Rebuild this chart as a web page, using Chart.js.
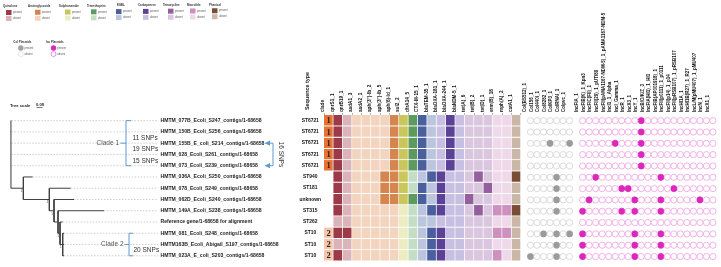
<!DOCTYPE html>
<html>
<head>
<meta charset="utf-8">
<script src="https://cdn.jsdelivr.net/npm/chart.js@4.4.1/dist/chart.umd.min.js"></script>
<style>
  html, body { margin: 0; padding: 0; background: #fff; }
  body { width: 721px; height: 267px; position: relative; overflow: hidden; }
  canvas { position: absolute; top: 0; }
</style>
</head>
<body>
<canvas id="tree" width="300" height="267" style="left:0"></canvas>
<canvas id="heat" width="232" height="267" style="left:290px"></canvas>
<canvas id="dots" width="199" height="267" style="left:522px"></canvas>
<script>
// ---------- data ----------
const tipLabels = [
    'HMTM_077B_Ecoli_S247_contigs/1-68658',
    'HMTM_150B_Ecoli_S256_contigs/1-68658',
    'HMTM_155B_E_coli_S214_contigs/1-68658',
    'HMTM_028_Ecoli_S261_contigs/1-68658',
    'HMTM_073_Ecoli_S239_contigs/1-68658',
    'HMTM_036A_Ecoli_S250_contigs/1-68658',
    'HMTM_078_Ecoli_S249_contigs/1-68658',
    'HMTM_062D_Ecoli_S240_contigs/1-68658',
    'HMTM_149A_Ecoli_S238_contigs/1-68658',
    'Reference gene/1-68658 for alignment',
    'HMTM_081_Ecoli_S248_contigs/1-68658',
    'HMTM163B_Ecoli_Abigail_S197_contigs/1-68658',
    'HMTM_023A_E_coli_S203_contigs/1-68658'
];
const seqTypes = ['ST6721', 'ST6721', 'ST6721', 'ST6721', 'ST6721', 'ST940', 'ST181', 'unknown', 'ST315', 'ST262', 'ST10', 'ST10', 'ST10'];
const cladeOf = [1, 1, 1, 1, 1, 0, 0, 0, 0, 0, 2, 2, 2];

// tree: tip depths and internal nodes (depth, children; numbers = tips, 'nX' = node X)
const tipDepth = [0.01, 0.01, 0.01, 0.01, 0.01, 0.33, 0.9, 0.95, 1.4, 0.78, 0.8, 0.8, 0.8];
const nodeDepth = [0, 0.19, 0.58, 0.65, 0.71, 0.74, 0.78];
const nodeKids = [[0, 1, 2, 3, 4, 'n1'], [5, 'n2'], [6, 'n3'], [7, 'n4'], [8, 'n5'], [9, 'n6'], [10, 11, 12]];
const nodeSupport = ['', '1', '1', '1', '', '1', '1'];

const geneNames = ['qnrS1_1', 'qnrB19_1', 'aadA1_3', 'aadA2_1', "aph(3'')-Ib_2", "aph(3'')-Ib_5", 'aph(6)-Id_1', 'sul2_2', 'dfrA14_5',
    'CTX-M-15_1', 'blaTEM-35_1', 'blaOXA-181_1', 'blaOXA-244_1', 'blaNDM-5_1', 'tet(A)_6', 'tet(B)_2', 'tet(D)_1', 'erm(B)_18', 'mph(A)_2', 'catA1_1'];
const geneClass = ['Quinolone', 'Quinolone', 'Aminoglycoside', 'Aminoglycoside', 'Aminoglycoside', 'Aminoglycoside', 'Aminoglycoside',
    'Sulphonamide', 'Trimethoprim', 'ESBL', 'ESBL', 'Carbapenem', 'Carbapenem', 'Carbapenem',
    'Tetracycline', 'Tetracycline', 'Tetracycline', 'Macrolide', 'Macrolide', 'Phenicol'];
// 1 = gene present, one row per isolate in tree order
const geneHits = [
    [1,0,0,0,0,0,1,1,1,1,0,0,1,0,0,0,0,0,0,0],
    [1,0,0,0,0,0,1,1,1,1,0,0,1,0,0,0,0,0,0,0],
    [1,0,0,0,0,0,1,1,1,1,0,0,1,0,0,0,0,0,0,0],
    [1,0,0,0,0,0,1,1,1,1,0,0,1,0,0,0,0,0,0,0],
    [1,0,0,0,0,0,1,1,1,1,0,0,1,0,0,0,0,0,0,0],
    [1,0,0,0,0,1,1,1,0,0,1,1,0,0,0,1,0,0,0,1],
    [1,0,0,0,0,1,1,1,0,1,0,1,0,0,0,0,1,0,0,0],
    [1,0,0,0,0,1,1,1,1,1,0,1,0,0,1,0,0,0,0,0],
    [1,0,0,0,0,0,0,0,0,0,1,1,0,0,0,1,0,1,1,1],
    [0,0,0,0,0,0,0,0,0,0,0,0,0,0,0,0,0,0,0,0],
    [1,1,0,0,0,0,0,0,0,0,1,1,0,0,0,0,0,1,1,0],
    [0,0,0,0,0,0,0,0,0,0,1,1,0,0,0,0,0,0,0,0],
    [1,0,0,0,0,0,0,0,0,0,1,1,0,0,0,0,0,1,0,0]
];

const colPlasmids = ['Col(BS512)_1', 'Col156_1', 'Col440I_1', 'Col8282_1', 'ColKP3_1', 'ColRNAI_1', 'Colpvc_1'];
const incPlasmids = ['IncFIA_1', 'IncFIB(K)_1_Kpn3', 'IncFIC(FII)_1', 'IncFII(29)_1_pUTI89', 'IncFII(pAMA1167-NDM-5)_1_pAMA1167-NDM-5',
    'IncI1_1_Alpha', 'IncI_Gamma_1', 'IncR_1', 'IncX3_1', 'IncY_1', 'IncB/O/K/Z_3', 'IncFIA(HI1)_1_HI1', 'IncFIB(AP001918)_1',
    'IncFII(p0111)_1_p0111', 'IncFII(p14)_1_p14', 'IncFII(pRSB107)_1_pRSB107', 'IncHI1A_1', 'IncHI1B(R27)_1_R27',
    'IncL/M(pMU407)_1_pMU407', 'IncN_1', 'IncX1_1'];
// indexes of plasmids found, per isolate
const colHits = [[], [], [3, 6], [], [], [4], [4], [4], [4], [], [2, 4, 6], [4], [0, 4]];
const incHits = [[9], [9], [5, 9], [9], [9], [2, 12], [6, 7, 14], [1, 8, 12, 18], [0, 6, 8, 12], [], [0, 8, 12], [0, 8, 12], [0, 8, 12]];

// ---------- styles ----------
const FONT = '"Liberation Sans", Arial, sans-serif';
const classOrder = ['Quinolone', 'Aminoglycoside', 'Sulphonamide', 'Trimethoprim', 'ESBL', 'Carbapenem', 'Tetracycline', 'Macrolide', 'Phenicol'];
const classColors = {
    Quinolone: ['#9c3a47', '#dbb4b9'],
    Aminoglycoside: ['#d5864f', '#f2d4bf'],
    Sulphonamide: ['#c9c75b', '#ededc3'],
    Trimethoprim: ['#5e9a5e', '#c4ddc5'],
    ESBL: ['#4a5f9e', '#bbc5de'],
    Carbapenem: ['#5c4297', '#c8c0e2'],
    Tetracycline: ['#935f9c', '#dac6df'],
    Macrolide: ['#ce90bf', '#eed8e9'],
    Phenicol: ['#7a4c36', '#cbb7a8']
};
const cladeColor = ['#ffffff', '#ea7230', '#f7c6aa'];
const snpBlue = '#5b9bd5';
const legendTitleX = [3, 28, 59, 87, 117, 138, 163, 187, 209];
const legendSwatchX = [6, 35, 65, 91, 116, 143, 168, 190, 212];

// ---------- tree geometry from the node table ----------
const XMAX = 2.21;
const nodeY = [];
const kidIndex = c => +c.slice(1);
const layoutNode = k => {
    const ys = nodeKids[k].map(c => typeof c === 'number' ? c : layoutNode(kidIndex(c)));
    nodeY[k] = (ys[0] + ys[ys.length - 1]) / 2;
    return nodeY[k];
};
layoutNode(0);

const branchPts = [];
const addSeg = (x1, y1, x2, y2) => branchPts.push({x: x1, y: y1}, {x: x2, y: y2}, {x: NaN, y: NaN});
nodeKids.forEach((kids, k) => {
    const ys = kids.map(c => typeof c === 'number' ? c : nodeY[kidIndex(c)]);
    addSeg(nodeDepth[k], ys[0], nodeDepth[k], ys[ys.length - 1]);
    kids.forEach((c, j) => {
        const cx = typeof c === 'number' ? tipDepth[c] : nodeDepth[kidIndex(c)];
        addSeg(nodeDepth[k], ys[j], cx, ys[j]);
    });
});
const alignPts = [];
tipDepth.forEach((d, i) => alignPts.push({x: d, y: i}, {x: XMAX, y: i}, {x: NaN, y: NaN}));

// ---------- tree chart (+ legend and clade notes) ----------
const treeDecor = {
    id: 'treeDecor',
    afterDraw(chart) {
        const {ctx, scales: {x, y}} = chart;
        const py = r => y.getPixelForValue(r);
        ctx.save();
        ctx.textBaseline = 'middle';

        // class legend
        classOrder.forEach((cls, i) => {
            const ty = 6.5 - i * 0.22;
            ctx.fillStyle = '#333';
            ctx.font = 'bold 2.9px ' + FONT;
            ctx.textAlign = 'left';
            ctx.fillText(cls, legendTitleX[i], ty);
            ['present', 'absent'].forEach((txt, j) => {
                const sy = ty + 3.5 + j * 6;
                ctx.fillStyle = classColors[cls][j];
                ctx.fillRect(legendSwatchX[i], sy, 5.5, 5);
                ctx.fillStyle = '#555';
                ctx.font = '2.6px ' + FONT;
                ctx.fillText(txt, legendSwatchX[i] + 7, sy + 2.5);
            });
        });

        // plasmid legend
        [['Col Plasmids', 13.3, 20.8, '#a0a0a0', '#cccccc'], ['Inc Plasmids', 46, 53.5, '#dc27bd', '#dc27bd']].forEach(([t, tx, cx, fill, edge]) => {
            ctx.fillStyle = '#333';
            ctx.font = 'bold 2.9px ' + FONT;
            ctx.textAlign = 'left';
            ctx.fillText(t, tx, 42.5);
            ['present', 'absent'].forEach((txt, j) => {
                const cy = 48 + j * 6;
                ctx.beginPath();
                ctx.arc(cx, cy, 2.5, 0, Math.PI * 2);
                ctx.fillStyle = j === 0 ? fill : '#fff';
                ctx.fill();
                ctx.lineWidth = 0.5;
                ctx.strokeStyle = j === 0 ? fill : edge;
                ctx.stroke();
                ctx.fillStyle = '#555';
                ctx.font = '2.6px ' + FONT;
                ctx.fillText(txt, cx + 3.8, cy);
            });
        });

        // tree scale
        ctx.fillStyle = '#222';
        ctx.font = 'bold 4.2px ' + FONT;
        ctx.fillText('Tree scale', 10, 106);
        ctx.fillText('0.09', 36, 104.6);
        ctx.strokeStyle = '#222';
        ctx.lineWidth = 0.6;
        ctx.beginPath();
        ctx.moveTo(36.5, 107.5);
        ctx.lineTo(36.5 + (x.getPixelForValue(0.09) - x.getPixelForValue(0)), 107.5);
        ctx.stroke();

        // support values
        ctx.font = '3px ' + FONT;
        ctx.fillStyle = '#444';
        ctx.textAlign = 'right';
        nodeSupport.forEach((s, k) => {
            if (s) ctx.fillText(s, x.getPixelForValue(nodeDepth[k]) - 1, py(nodeY[k]) + 3);
        });

        // clade brackets
        ctx.strokeStyle = snpBlue;
        ctx.lineWidth = 1;
        ctx.beginPath();
        ctx.moveTo(131, py(0)); ctx.lineTo(126, py(0)); ctx.lineTo(126, py(4)); ctx.lineTo(131, py(4));
        ctx.moveTo(120.5, py(2)); ctx.lineTo(126, py(2));
        ctx.moveTo(133, py(10)); ctx.lineTo(129, py(10)); ctx.lineTo(129, py(12)); ctx.lineTo(133, py(12));
        ctx.moveTo(124.5, py(11)); ctx.lineTo(129, py(11));
        // 16 SNPs arrow
        ctx.moveTo(269, py(2)); ctx.lineTo(273, py(2)); ctx.lineTo(273, py(4)); ctx.lineTo(269, py(4));
        ctx.stroke();
        ctx.fillStyle = snpBlue;
        [2, 4].forEach(r => {
            ctx.beginPath();
            ctx.moveTo(264.5, py(r)); ctx.lineTo(270, py(r) - 2.6); ctx.lineTo(270, py(r) + 2.6);
            ctx.closePath();
            ctx.fill();
        });

        ctx.font = '6.5px ' + FONT;
        ctx.fillStyle = '#555';
        ctx.textAlign = 'right';
        ctx.fillText('Clade 1', 119, py(2));
        ctx.fillText('Clade 2', 123.5, py(11));
        ctx.fillStyle = '#333';
        ctx.textAlign = 'left';
        ctx.fillText('11 SNPs', 132.5, py(1.5) + 0.3);
        ctx.fillText('19 SNPs', 132.5, py(2.5) + 0.8);
        ctx.fillText('15 SNPs', 132.5, py(3.5) + 1.2);
        ctx.fillText('20 SNPs', 133.5, py(11.5) + 0.5);
        ctx.save();
        ctx.translate(281, (py(2) + py(4)) / 2);
        ctx.rotate(Math.PI / 2);
        ctx.textAlign = 'center';
        ctx.fillText('16 SNPs', 0, 0);
        ctx.restore();
        ctx.restore();
    }
};

new Chart(document.getElementById('tree'), {
    type: 'scatter',
    data: {
        datasets: [
            {data: alignPts, showLine: true, spanGaps: false, borderColor: '#c2c2c2', borderWidth: 0.8, borderDash: [1.5, 1.5], pointRadius: 0},
            {data: branchPts, showLine: true, spanGaps: false, borderColor: '#3f3f3f', borderWidth: 1, pointRadius: 0}
        ]
    },
    options: {
        responsive: false,
        animation: false,
        events: [],
        layout: {padding: {left: 10.7, top: 115, right: 0, bottom: 1}},
        plugins: {legend: {display: false}, tooltip: {enabled: false}},
        scales: {
            x: {type: 'linear', min: 0, max: XMAX, display: false},
            y: {type: 'linear', min: -0.5, max: 12.5, reverse: true, display: false},
            yTip: {
                type: 'category', position: 'right', labels: tipLabels, offset: true,
                grid: {display: false, drawTicks: false}, border: {display: false},
                ticks: {font: {family: FONT, size: 5.1, weight: 'bold'}, color: '#222', crossAlign: 'near', padding: 2.5, autoSkip: false},
                afterFit: s => { s.width = 142; }
            }
        }
    },
    plugins: [treeDecor]
});

// ---------- resistance gene heatmap ----------
const heatLabels = ['clade', ...geneNames];
const heatDecor = {
    id: 'heatDecor',
    afterDatasetsDraw(chart) {
        const {ctx} = chart;
        ctx.save();
        ctx.font = 'bold 8.5px "Liberation Serif", serif';
        ctx.fillStyle = '#222';
        ctx.textAlign = 'center';
        ctx.textBaseline = 'middle';
        cladeOf.forEach((c, r) => {
            if (!c) return;
            const bar = chart.getDatasetMeta(r).data[0];
            ctx.fillText(String(c), bar.x, (bar.y + bar.base) / 2 + 0.5);
        });
        ctx.translate(18, 110);
        ctx.rotate(-Math.PI / 2);
        ctx.font = 'bold 5.4px ' + FONT;
        ctx.textAlign = 'left';
        ctx.fillText('Sequence type', 0, 0);
        ctx.restore();
    }
};

new Chart(document.getElementById('heat'), {
    type: 'bar',
    data: {
        labels: heatLabels,
        datasets: geneHits.map((hits, r) => ({
            label: seqTypes[r],
            data: heatLabels.map(() => 1),
            backgroundColor: heatLabels.map((_, c) => c === 0 ? cladeColor[cladeOf[r]] : classColors[geneClass[c - 1]][hits[c - 1] ? 0 : 1]),
            borderColor: '#ffffff',
            borderWidth: {top: 0, left: 0, right: 1, bottom: 1},
            borderSkipped: false,
            categoryPercentage: 1,
            barPercentage: 1
        }))
    },
    options: {
        responsive: false,
        animation: false,
        events: [],
        layout: {padding: {left: 0, top: 0, right: 1, bottom: 1}},
        plugins: {legend: {display: false}, tooltip: {enabled: false}},
        scales: {
            x: {
                position: 'top', stacked: true,
                grid: {display: true, drawOnChartArea: false, drawTicks: true, tickLength: 2, color: '#b5b5b5'},
                border: {display: false},
                ticks: {minRotation: 90, maxRotation: 90, autoSkip: false, padding: 1, color: '#111', font: {family: FONT, size: 4.7, weight: 'bold'}},
                afterFit: s => { s.height = 115; }
            },
            y: {stacked: true, min: 0, max: 13, reverse: true, display: false},
            yST: {
                type: 'category', position: 'left', labels: seqTypes, offset: true,
                grid: {display: false, drawTicks: false}, border: {display: false},
                ticks: {crossAlign: 'center', padding: 3, autoSkip: false, color: '#111', font: {family: FONT, size: 4.9, weight: 'bold'}},
                afterFit: s => { s.width = 34; }
            }
        }
    },
    plugins: [heatDecor]
});

// ---------- plasmid replicon dots ----------
const plasmidLabels = [...colPlasmids, '', ...incPlasmids];
const dotPoints = (names, hitsList, want) => {
    const pts = [];
    hitsList.forEach((hits, r) => names.forEach((n, c) => {
        if (hits.includes(c) === want) pts.push({x: n, y: r});
    }));
    return pts;
};
const dotStyle = (bg, edge) => ({pointRadius: 3.1, pointBorderWidth: 0.8, pointBackgroundColor: bg, pointBorderColor: edge, showLine: false});

new Chart(document.getElementById('dots'), {
    type: 'scatter',
    data: {
        datasets: [
            {data: dotPoints(colPlasmids, colHits, false), ...dotStyle('#ffffff', '#d2d2d2')},
            {data: dotPoints(colPlasmids, colHits, true), ...dotStyle('#9b9b9b', '#9b9b9b')},
            {data: dotPoints(incPlasmids, incHits, false), ...dotStyle('#ffffff', '#ef9fe0')},
            {data: dotPoints(incPlasmids, incHits, true), ...dotStyle('#dc27bd', '#dc27bd')}
        ]
    },
    options: {
        responsive: false,
        animation: false,
        events: [],
        layout: {padding: {left: 4.5, top: 0, right: 0, bottom: 1}},
        plugins: {legend: {display: false}, tooltip: {enabled: false}},
        scales: {
            x: {
                type: 'category', labels: plasmidLabels, position: 'top', offset: true,
                grid: {display: false, drawTicks: false}, border: {display: false},
                ticks: {minRotation: 90, maxRotation: 90, autoSkip: false, padding: 3, color: '#111', font: {family: FONT, size: 4.5, weight: 'bold'}},
                afterFit: s => { s.height = 115; }
            },
            y: {type: 'linear', min: -0.5, max: 12.5, reverse: true, display: false}
        }
    }
});
</script>
</body>
</html>
